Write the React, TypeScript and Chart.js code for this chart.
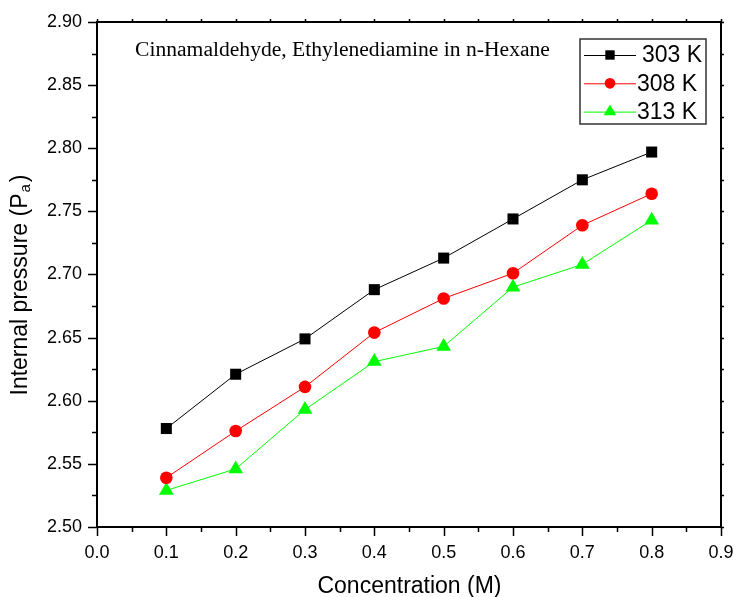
import { useEffect, useRef } from 'react';
import { Chart, registerables } from 'chart.js';

Chart.register(...registerables);

// ---- data ----
const concentrations = [0.1, 0.2, 0.3, 0.4, 0.5, 0.6, 0.7, 0.8];
const series303 = [2.578, 2.621, 2.649, 2.688, 2.713, 2.744, 2.775, 2.797];
const series308 = [2.539, 2.576, 2.611, 2.654, 2.681, 2.701, 2.739, 2.764];
const series313 = [2.529, 2.546, 2.593, 2.631, 2.643, 2.690, 2.708, 2.743];
const seriesLabels = ['303 K', '308 K', '313 K'];
const seriesColors = ['#000000', '#ff0000', '#00ff00'];
const seriesMarkers = ['rect', 'circle', 'triangle'];
const xRange = [0, 0.9];
const yRange = [2.5, 2.9];
const xMajorStep = 0.1;
const yMajorStep = 0.05;
const xTitle = 'Concentration (M)';
const yTitleMain = 'Internal pressure (P';
const yTitleSub = 'a';
const yTitleEnd = ')';
const innerText = 'Cinnamaldehyde, Ethylenediamine in n-Hexane';

const SANS = '"Liberation Sans", Arial, sans-serif';
const SERIF = '"Liberation Serif", "Times New Roman", serif';

function drawMarker(ctx: CanvasRenderingContext2D, style: string, x: number, y: number, r: number, color: string) {
  ctx.save();
  ctx.fillStyle = color;
  ctx.beginPath();
  if (style === 'rect') {
    const s = Math.SQRT1_2 * r;
    ctx.rect(x - s, y - s, 2 * s, 2 * s);
  } else if (style === 'circle') {
    ctx.arc(x, y, r, 0, Math.PI * 2);
  } else {
    let a = 0;
    ctx.moveTo(x + Math.sin(a) * r, y - Math.cos(a) * r);
    a += (2 * Math.PI) / 3;
    ctx.lineTo(x + Math.sin(a) * r, y - Math.cos(a) * r);
    a += (2 * Math.PI) / 3;
    ctx.lineTo(x + Math.sin(a) * r, y - Math.cos(a) * r);
    ctx.closePath();
  }
  ctx.fill();
  ctx.restore();
}

const framePlugin = {
  id: 'frameTicks',
  afterDraw(chart: any) {
    const { ctx, chartArea } = chart;
    const xs = chart.scales.x;
    const ys = chart.scales.y;
    const { left, right, top, bottom } = chartArea;
    ctx.save();
    ctx.strokeStyle = '#000';
    // ticks
    ctx.lineWidth = 1.5;
    const nx = Math.round((xRange[1] - xRange[0]) / (xMajorStep / 2));
    for (let i = 0; i <= nx; i++) {
      const v = xRange[0] + (i * xMajorStep) / 2;
      const px = Math.round(xs.getPixelForValue(v)) + 0.5;
      const major = i % 2 === 0;
      ctx.beginPath();
      ctx.moveTo(px, bottom);
      ctx.lineTo(px, bottom + (major ? 9 : 5));
      ctx.moveTo(px, top);
      ctx.lineTo(px, top - 3);
      ctx.stroke();
    }
    const ny = Math.round((yRange[1] - yRange[0]) / (yMajorStep / 2));
    for (let i = 0; i <= ny; i++) {
      const v = yRange[0] + (i * yMajorStep) / 2;
      const py = Math.round(ys.getPixelForValue(v)) + 0.5;
      const major = i % 2 === 0;
      ctx.beginPath();
      ctx.moveTo(left, py);
      ctx.lineTo(left - (major ? 9 : 5), py);
      ctx.moveTo(right, py);
      ctx.lineTo(right + 3, py);
      ctx.stroke();
    }
    // frame
    ctx.lineWidth = 2;
    ctx.strokeRect(left, top, right - left, bottom - top);

    // x title
    ctx.fillStyle = '#000';
    ctx.font = `23px ${SANS}`;
    ctx.textAlign = 'center';
    ctx.textBaseline = 'alphabetic';
    ctx.fillText(xTitle, (left + right) / 2 + 0.5, 593);

    // y title with subscript
    ctx.save();
    ctx.translate(27, 285);
    ctx.rotate(-Math.PI / 2);
    ctx.font = `23px ${SANS}`;
    const wMain = ctx.measureText(yTitleMain).width;
    const wEnd = ctx.measureText(yTitleEnd).width;
    ctx.font = `15px ${SANS}`;
    const wSub = ctx.measureText(yTitleSub).width;
    const total = wMain + wSub + wEnd + 3;
    let x0 = -total / 2;
    ctx.textAlign = 'left';
    ctx.font = `23px ${SANS}`;
    ctx.fillText(yTitleMain, x0, 0);
    x0 += wMain + 1;
    ctx.font = `15px ${SANS}`;
    ctx.fillText(yTitleSub, x0, 3);
    x0 += wSub + 2;
    ctx.font = `23px ${SANS}`;
    ctx.fillText(yTitleEnd, x0, 0);
    ctx.restore();

    // inner text
    ctx.font = `21.6px ${SERIF}`;
    ctx.textAlign = 'left';
    ctx.fillText(innerText, left + 38, top + 34);

    // legend
    const bw = 126;
    const bh = 85;
    const bx = right - 15 - bw;
    const by = top + 17;
    ctx.fillStyle = '#fff';
    ctx.fillRect(bx, by, bw, bh);
    ctx.strokeStyle = '#333';
    ctx.lineWidth = 1.5;
    ctx.strokeRect(bx, by, bw, bh);
    chart.data.datasets.forEach((ds: any, i: number) => {
      const cy = by + 16 + i * 28.3;
      ctx.strokeStyle = ds.borderColor;
      ctx.lineWidth = 1;
      ctx.beginPath();
      ctx.moveTo(bx + 4, cy + 0.5);
      ctx.lineTo(bx + 56, cy + 0.5);
      ctx.stroke();
      drawMarker(ctx, ds.pointStyle, bx + 30, cy, ds.pointRadius * 0.85, ds.backgroundColor);
      ctx.fillStyle = '#000';
      ctx.font = `23px ${SANS}`;
      ctx.textAlign = 'left';
      ctx.textBaseline = 'middle';
      ctx.fillText(ds.label, bx + (i === 0 ? 62 : 57), cy + 1);
    });
    ctx.restore();
  },
};

export default function App() {
  const ref = useRef<HTMLCanvasElement | null>(null);
  useEffect(() => {
    if (!ref.current) return;
    const allSeries = [series303, series308, series313];
    const radii = [7.8, 6.3, 8.5];
    const chart = new Chart(ref.current, {
      type: 'line',
      data: {
        datasets: allSeries.map((s, i) => ({
          label: seriesLabels[i],
          data: concentrations.map((c, j) => ({ x: c, y: s[j] })),
          borderColor: seriesColors[i],
          backgroundColor: seriesColors[i],
          borderWidth: 1,
          pointStyle: seriesMarkers[i] as any,
          pointRadius: radii[i],
          pointHoverRadius: radii[i],
          pointBorderWidth: 0,
          tension: 0,
        })),
      },
      options: {
        animation: false,
        responsive: false,
        maintainAspectRatio: false,
        layout: { padding: { top: 22, right: 12, left: 0, bottom: 0 } },
        plugins: { legend: { display: false }, tooltip: { enabled: false } },
        events: [],
        scales: {
          x: {
            type: 'linear',
            min: xRange[0],
            max: xRange[1],
            grid: { display: false, drawTicks: false },
            border: { display: false },
            afterFit: (s: any) => {
              s.height = 70;
              s.paddingLeft = 0;
              s.paddingRight = 0;
            },
            ticks: {
              stepSize: xMajorStep,
              padding: 15,
              color: '#000',
              font: { family: SANS, size: 18 },
              callback: (v: any) => Number(v).toFixed(1),
            },
          },
          y: {
            type: 'linear',
            min: yRange[0],
            max: yRange[1],
            grid: { display: false, drawTicks: false },
            border: { display: false },
            afterFit: (s: any) => {
              s.width = 97;
              s.paddingTop = 0;
              s.paddingBottom = 0;
            },
            ticks: {
              stepSize: yMajorStep,
              padding: 15,
              color: '#000',
              font: { family: SANS, size: 18 },
              callback: (v: any) => Number(v).toFixed(2),
            },
          },
        },
      },
      plugins: [framePlugin],
    });
    return () => chart.destroy();
  }, []);
  return (
    <div style={{ position: 'absolute', left: 0, top: 0, width: 733, height: 597, background: '#fff' }}>
      <canvas ref={ref} width={733} height={597} style={{ display: 'block', width: 733, height: 597 }} />
    </div>
  );
}
